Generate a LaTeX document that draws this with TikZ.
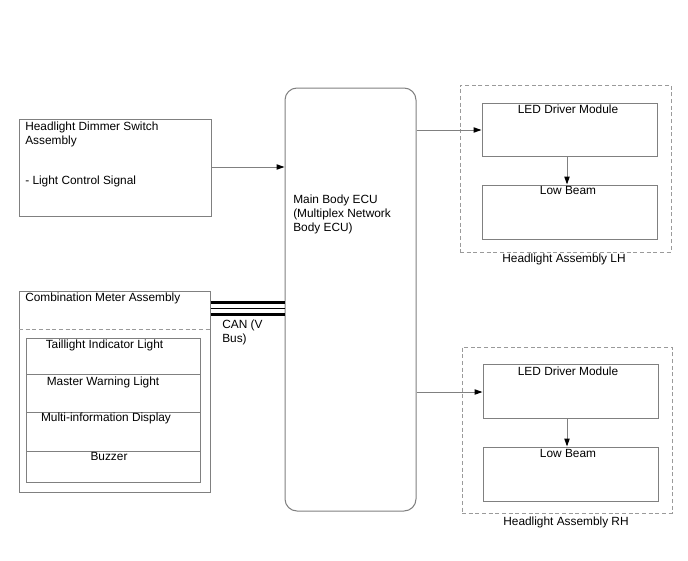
\documentclass[tikz,border=0pt]{standalone}
\usepackage{fontspec}
\setmainfont{Liberation Sans}
\usetikzlibrary{fit,arrows.meta}
\definecolor{bord}{HTML}{808080}
\definecolor{dash}{HTML}{9A9A9A}
\tikzset{
  box/.style={draw=bord, line width=0.75pt, inner sep=0pt, fit={#1}},
  dashbox/.style={draw=dash, line width=0.75pt, dash pattern=on 3pt off 2pt, inner sep=0pt, fit={#1}},
  lbl/.style={font=\fontsize{8.9}{10.5}\selectfont, inner sep=0pt, text=black},
  lw/.style={lbl, anchor=base west},
  lc/.style={lbl, anchor=base},
  arr/.style={draw=bord, line width=0.75pt, -{Triangle[length=6pt,width=4pt,color=black]}},
}
\begin{document}
\begin{tikzpicture}[x=0.75pt,y=-0.75pt]
\fill[white] (0,0) rectangle (688,560);
\useasboundingbox (0,0) rectangle (688,560);

% Dimmer switch
\node[box={(19,119) (211,216)}] (dim) {};
\node[lw] (dimt1) at (25,130) {Headlight Dimmer Switch};
\node[lw] (dimt2) at (25,144) {Assembly};
\node[lw] (dimt3) at (25,184) {- Light Control Signal};

% ECU
\node[draw=bord, line width=0.75pt, rounded corners=9pt, inner sep=0pt, fit={(285,88) (416,511)}] (ecu) {};
\node[lw] (ecut1) at (293,203) {Main Body ECU};
\node[lw] (ecut2) at (293,217) {(Multiplex Network};
\node[lw] (ecut3) at (293,231) {Body ECU)};

% Combination meter
\node[box={(19,291) (210,492)}] (cm) {};
\node[lw] (cmt) at (25,301) {Combination Meter Assembly};
\coordinate (dl) at (19,329);
\coordinate (dr) at (210,329);
\draw[draw=dash, line width=0.75pt, dash pattern=on 3pt off 2pt] (dl) -- (dr);
\node[box={(26,338) (200,374)}] (tl) {};
\node[box={(26,374) (200,412)}] (mw) {};
\node[box={(26,412) (200,451)}] (mid) {};
\node[box={(26,451) (200,482)}] (bz) {};
\node[lc] (tlt) at (104.5,348.5) {Taillight Indicator Light};
\node[lc] (mwt) at (103,385) {Master Warning Light};
\node[lc] (midt) at (106,421.5) {Multi-information Display};
\node[lc] (bzt) at (109,460) {Buzzer};

% CAN bus
\draw[line width=2.8pt] (cm.east |- 0,302.5) -- (ecu.west |- 0,302.5);
\draw[line width=0.75pt] (cm.east |- 0,308.5) -- (ecu.west |- 0,308.5);
\draw[line width=2.8pt] (cm.east |- 0,314.5) -- (ecu.west |- 0,314.5);
\node[lw] (can1) at (222,328) {CAN (V};
\node[lw] (can2) at (222,342) {Bus)};

% Headlight LH
\node[dashbox={(460,85) (671,252)}] (lh) {};
\node[box={(482,103) (657,156)}] (ledl) {};
\node[box={(482,185) (657,239)}] (lbl) {};
\node[lc] (ledlt) at (568,113.5) {LED Driver Module};
\node[lc] (lblt) at (568,194) {Low Beam};
\node[lc] (lht) at (564,262) {Headlight Assembly LH};

% Headlight RH
\node[dashbox={(462,347) (672,513)}] (rh) {};
\node[box={(483,364) (658,418)}] (ledr) {};
\node[box={(483,447) (658,501)}] (lbr) {};
\node[lc] (ledrt) at (568,375) {LED Driver Module};
\node[lc] (lbrt) at (568,457.5) {Low Beam};
\node[lc] (rht) at (566,525) {Headlight Assembly RH};

% connectors
\draw[arr] (dim.east |- 0,167) -- (ecu.west |- 0,167);
\draw[arr] (ecu.east |- 0,130) -- (ledl.west |- 0,130);
\draw[arr] (ecu.east |- 0,392) -- (ledr.west |- 0,392);
\draw[arr] (ledl.south -| 567,0) -- (lbl.north -| 567,0);
\draw[arr] (ledr.south -| 567,0) -- (lbr.north -| 567,0);
\end{tikzpicture}
\end{document}
